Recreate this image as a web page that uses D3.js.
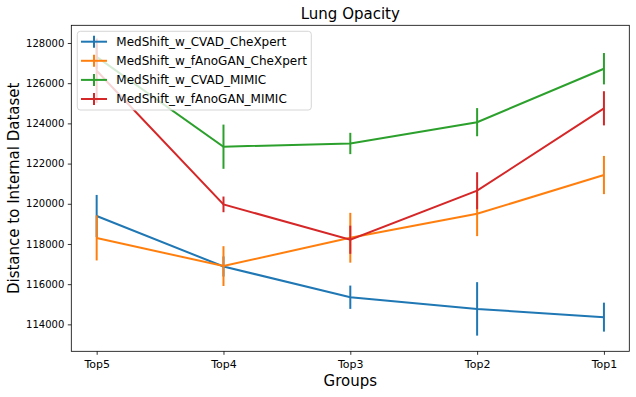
<!DOCTYPE html>
<html>
<head>
<meta charset="utf-8">
<script src="https://d3js.org/d3.v7.min.js"></script>
<style>
  body { margin: 0; background: #fff; }
  svg { font-family: "DejaVu Sans", sans-serif; }
</style>
</head>
<body>
<svg id="svg1" width="636" height="397"></svg>
<script>
// groups on the x axis
var groups = ["Top5", "Top4", "Top3", "Top2", "Top1"];

// mean distances and error half-widths
var cvadCheXpert = [119390, 116880, 115350, 114770, 114360];
var cvadCheXpertErr = [1050, 500, 580, 1330, 720];

var fanoganCheXpert = [118300, 116900, 118310, 119500, 121430];
var fanoganCheXpertErr = [1120, 990, 1240, 1110, 950];

var cvadMimic = [127310, 122840, 123000, 124060, 126720];
var cvadMimicErr = [600, 1100, 530, 700, 780];

var fanoganMimic = [126620, 119970, 118210, 120650, 124750];
var fanoganMimicErr = [1600, 390, 700, 920, 850];

var yTicks = [114000, 116000, 118000, 120000, 122000, 124000, 126000, 128000];

var series = [
  {name: "MedShift_w_CVAD_CheXpert", color: "#1f77b4", values: cvadCheXpert, err: cvadCheXpertErr},
  {name: "MedShift_w_fAnoGAN_CheXpert", color: "#ff7f0e", values: fanoganCheXpert, err: fanoganCheXpertErr},
  {name: "MedShift_w_CVAD_MIMIC", color: "#2ca02c", values: cvadMimic, err: cvadMimicErr},
  {name: "MedShift_w_fAnoGAN_MIMIC", color: "#d62728", values: fanoganMimic, err: fanoganMimicErr}
];

// plot box (window.top is read-only, so prefixed names)
var plotLeft = 71.3, plotTop = 25.3, plotRight = 629.3, plotBottom = 351.3;

var svg = d3.select('svg');

var x = d3.scaleLinear().domain([-0.2, 4.2]).range([plotLeft, plotRight]);
var y = d3.scaleLinear().domain([112660, 128880]).range([plotBottom, plotTop]);

// axes
var xAxis = svg.append('g')
    .attr('transform', 'translate(0,' + plotBottom + ')')
    .call(d3.axisBottom(x).tickValues(d3.range(groups.length)).tickFormat(function(i){ return groups[i]; })
      .tickSizeInner(3.5).tickSizeOuter(0).tickPadding(5));

var yAxis = svg.append('g')
    .attr('transform', 'translate(' + plotLeft + ',0)')
    .call(d3.axisLeft(y).tickValues(yTicks).tickFormat(d3.format('d'))
      .tickSizeInner(3.5).tickSizeOuter(0).tickPadding(3.5));

[xAxis, yAxis].forEach(function(a){
  a.select('.domain').remove();
  a.selectAll('line').attr('stroke', '#000').attr('stroke-width', 0.8);
  a.selectAll('text').attr('fill', '#000').style('font-family', '"DejaVu Sans", sans-serif');
});
xAxis.selectAll('text').style('font-size', '11px');
yAxis.selectAll('text').style('font-size', '10px');

// lines + error bars
var line = d3.line()
    .x(function(d, i){ return x(i); })
    .y(function(d){ return y(d); });

series.forEach(function(s){
  var g = svg.append('g');
  g.append('path')
    .datum(s.values)
    .attr('d', line)
    .attr('fill', 'none')
    .attr('stroke', s.color)
    .attr('stroke-width', 2);
  g.selectAll('line.err')
    .data(s.values)
    .enter().append('line')
    .attr('class', 'err')
    .attr('x1', function(d, i){ return x(i); })
    .attr('x2', function(d, i){ return x(i); })
    .attr('y1', function(d, i){ return y(d - s.err[i]); })
    .attr('y2', function(d, i){ return y(d + s.err[i]); })
    .attr('stroke', s.color)
    .attr('stroke-width', 2);
});

// frame
svg.append('rect')
  .attr('x', plotLeft).attr('y', plotTop)
  .attr('width', plotRight - plotLeft).attr('height', plotBottom - plotTop)
  .attr('fill', 'none').attr('stroke', '#000').attr('stroke-width', 0.8);

// legend
var legend = svg.append('g');
legend.append('rect')
  .attr('x', 77.3).attr('y', 31.3)
  .attr('width', 234).attr('height', 78.7)
  .attr('rx', 3).attr('ry', 3)
  .attr('fill', 'white').attr('fill-opacity', 0.8)
  .attr('stroke', '#cccccc').attr('stroke-width', 0.8);

var rows = legend.selectAll('g.row')
  .data(series)
  .enter().append('g')
  .attr('class', 'row')
  .attr('transform', function(d, i){ return 'translate(0,' + (41.7 + i * 19.1) + ')'; });

rows.append('line')
  .attr('x1', 81).attr('x2', 107).attr('y1', 0).attr('y2', 0)
  .attr('stroke', function(d){ return d.color; }).attr('stroke-width', 2);
rows.append('line')
  .attr('x1', 94).attr('x2', 94).attr('y1', -6).attr('y2', 6)
  .attr('stroke', function(d){ return d.color; }).attr('stroke-width', 2);
rows.append('text')
  .attr('x', 116.3).attr('y', 4.3)
  .style('font-size', '12px')
  .text(function(d){ return d.name; });

// title and axis labels
svg.append('text')
  .attr('x', (plotLeft + plotRight) / 2).attr('y', 19)
  .attr('text-anchor', 'middle')
  .style('font-size', '15px')
  .text('Lung Opacity');

svg.append('text')
  .attr('x', (plotLeft + plotRight) / 2).attr('y', 386)
  .attr('text-anchor', 'middle')
  .style('font-size', '15px')
  .text('Groups');

svg.append('text')
  .attr('transform', 'translate(19,' + ((plotTop + plotBottom) / 2) + ') rotate(-90)')
  .attr('text-anchor', 'middle')
  .style('font-size', '15px')
  .text('Distance to Internal Dataset');
</script>
</body>
</html>
